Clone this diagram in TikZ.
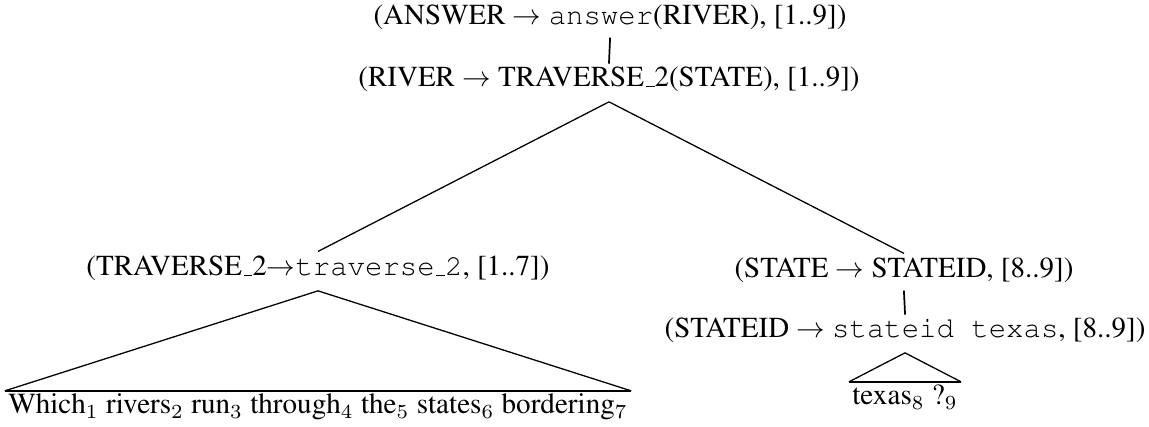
\documentclass[tikz,border=0pt]{standalone}
\usepackage[OT1]{fontenc}
\usepackage{times}
\usepackage{tikz}
\newcommand{\wrd}[2]{#1$_{#2}$}

\begin{document}
\begin{tikzpicture}[
  x=0.35pt, y=-0.35pt,
  rule/.style={anchor=base, inner sep=0pt, text height=8.4pt, text depth=5pt,
               font=\fontsize{10.15}{12}\selectfont},
  yield/.style={anchor=base, inner xsep=1pt, inner ysep=0pt, text height=7.9pt,
                font=\fontsize{10.2}{12}\selectfont},
  edge/.style={line width=0.45pt},
  unary/.style={line width=0.6pt, shorten <=-0.8pt, shorten >=-0.4pt},
  base/.style={line width=0.9pt}
]
\useasboundingbox (0,0) rectangle (1149,427);

% derivation tree
\node[rule] (answer)   at (610,25)  {(ANSWER $\rightarrow$ \texttt{answer}(RIVER), [1..9])};
\node[rule] (river)    at (609,87)  {(RIVER $\rightarrow$ TRAVERSE\_2(STATE), [1..9])};
\node[rule] (traverse) at (318,276) {(TRAVERSE\_2$\rightarrow$\texttt{traverse\_2}, [1..7])};
\node[rule] (state)    at (904,278) {(STATE $\rightarrow$ STATEID, [8..9])};
\node[rule] (stateid)  at (905,338) {(STATEID $\rightarrow$ \texttt{stateid texas}, [8..9])};

% words covered by the leaves
\node[yield] (words) at (318,414)
  {\wrd{Which}{1} \wrd{rivers}{2} \wrd{run}{3} \wrd{through}{4} \wrd{the}{5} \wrd{states}{6} \wrd{bordering}{7}};
\node[yield] (texas) at (905,405) {\wrd{texas}{8} \wrd{?}{9}};

\draw[unary] (answer.south) -- (river.north);
\draw[edge] (river.south) -- (traverse.north);
\draw[edge] (river.south) -- (state.north);
\draw[unary] (state.south) -- (stateid.north);

% triangles over the spans
\draw[edge] (words.north west) -- (traverse.south) -- (words.north east);
\draw[base] (words.north west) -- (words.north east);
\draw[edge] (texas.north west) -- (stateid.south) -- (texas.north east);
\draw[base] (texas.north west) -- (texas.north east);
\end{tikzpicture}
\end{document}
